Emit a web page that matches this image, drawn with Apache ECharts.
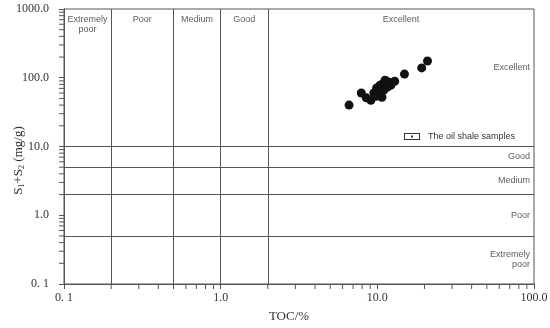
<!DOCTYPE html>
<html><head><meta charset="utf-8">
<script src="https://cdn.jsdelivr.net/npm/echarts@6/dist/echarts.min.js"></script>
<style>html,body{margin:0;padding:0;background:#fff}#c{width:550px;height:328px}</style>
</head><body><div id="c"></div>
<script>
// TOC (%) and S1+S2 (mg/g) of the oil shale samples
const sampleTOC = [6.6, 7.9, 8.5, 9.1, 9.5, 9.9, 10.4, 10.8, 11.3, 10.4, 11.0, 11.6, 11.8, 9.9, 10.7, 12.2, 11.2, 12.9, 14.9, 19.2, 20.9];
const sampleS12 = [40, 60, 51, 47, 60, 71, 78, 81, 84, 62, 66, 73, 87, 54, 52, 78, 92, 89, 113, 139, 175];
// class boundaries
const tocBounds = [0.1, 0.2, 0.5, 1, 2, 100];
const tocClasses = ['Extremely\npoor', 'Poor', 'Medium', 'Good', 'Excellent'];
const s12Bounds = [0.1, 0.5, 2, 5, 10, 1000];
const s12Classes = ['Extremely\npoor', 'Poor', 'Medium', 'Good', 'Excellent'];
// axis tick labels
const xTickLabels = ['0. 1', '1.0', '10.0', '100.0'];
const yTickLabels = ['0. 1', '1.0', '10.0', '100.0', '1000.0'];
const seriesName = 'The oil shale samples';

const samples = sampleTOC.map((x, i) => [x, sampleS12[i]]);
const lineColor = '#555';
const serif = 'Liberation Serif';
const sans = 'Liberation Sans';

// minor ticks at 2..9 x decade
const xMinor = [], yMinor = [];
for (let d = -1; d < 2; d++) for (let k = 2; k <= 9; k++) xMinor.push(k * Math.pow(10, d));
for (let d = -1; d < 3; d++) for (let k = 2; k <= 9; k++) yMinor.push(k * Math.pow(10, d));
const tickData = xMinor.map(v => [v, 0.1, 0]).concat(yMinor.map(v => [0.1, v, 1]));

const markLines = tocBounds.slice(1, -1).map(v => ({ xAxis: v }))
  .concat(s12Bounds.slice(1, -1).map(v => ({ yAxis: v })));

const topLabelData = tocClasses.map((n, i) => ({
  value: [Math.sqrt(tocBounds[i] * tocBounds[i + 1]), 820], name: n
}));
const rightLabelData = s12Classes.map((n, i) => ({
  value: [100, Math.sqrt(s12Bounds[i] * s12Bounds[i + 1])], name: n,
  label: i === 4 ? { offset: [-4, -10] } : {}
}));

function tickLabel(arr, base) {
  return v => { const i = Math.round(Math.log10(v)) - base; return arr[i] !== undefined ? arr[i] : ''; };
}

const chart = echarts.init(document.getElementById('c'), null, { renderer: 'canvas' });
chart.setOption({
  animation: false,
  backgroundColor: '#fff',
  grid: { left: 64, right: 16, top: 9, bottom: 44, containLabel: false, outerBoundsMode: 'none',
    show: true, borderColor: lineColor, borderWidth: 1, backgroundColor: 'transparent' },
  legend: {
    data: [seriesName], left: 399, top: 127, itemWidth: 16, itemHeight: 7,
    icon: 'path://M0,0H16V7H0Z M1,1V6H15V1Z M7,2.5H9V4.5H7Z',
    textStyle: { fontFamily: sans, fontSize: 9, color: '#333', padding: [0, 0, 0, 3] },
    itemStyle: { color: '#333', opacity: 1 }
  },
  xAxis: {
    type: 'log', logBase: 10, min: 0.1, max: 100,
    name: 'TOC/%', nameLocation: 'middle', nameGap: 26, nameMoveOverlap: false,
    nameTextStyle: { fontFamily: serif, fontSize: 13, color: '#333', padding: [0, 20, 0, 0] },
    axisLine: { lineStyle: { color: lineColor } },
    axisTick: { show: true, length: 5, lineStyle: { color: lineColor } },
    axisLabel: { formatter: tickLabel(xTickLabels, -1), fontFamily: serif, fontSize: 12, color: '#333', margin: 8 },
    splitLine: { show: false }
  },
  yAxis: {
    type: 'log', logBase: 10, min: 0.1, max: 1000,
    name: '{a|S}{s|1}{a|+S}{s|2}{a| (mg/g)}', nameLocation: 'middle', nameGap: 38, nameMoveOverlap: false,
    nameTextStyle: {
      padding: [0, 28, 0, 0],
      rich: {
        a: { fontFamily: serif, fontSize: 13, color: '#333' },
        s: { fontFamily: serif, fontSize: 8, color: '#333', verticalAlign: 'bottom', padding: [6, 0, 0, 0] }
      }
    },
    axisLine: { lineStyle: { color: lineColor } },
    axisTick: { show: true, length: 5, lineStyle: { color: lineColor } },
    axisLabel: { formatter: tickLabel(yTickLabels, -1), fontFamily: serif, fontSize: 12, color: '#333', margin: 15 },
    splitLine: { show: false }
  },
  series: [
    {
      name: seriesName, type: 'scatter', data: samples, symbolSize: 9,
      itemStyle: { color: '#111', opacity: 1 }, z: 5,
      markLine: {
        silent: true, symbol: 'none', label: { show: false },
        lineStyle: { type: 'solid', color: lineColor, width: 1, opacity: 1 },
        data: markLines, animation: false
      }
    },
    {
      type: 'custom', silent: true, data: tickData, z: 3,
      renderItem: (params, api) => {
        const p = api.coord([api.value(0), api.value(1)]);
        const vert = api.value(2) === 0;
        return {
          type: 'line',
          shape: vert ? { x1: p[0], y1: p[1], x2: p[0], y2: p[1] + 5 } : { x1: p[0], y1: p[1], x2: p[0] - 5, y2: p[1] },
          style: { stroke: lineColor, lineWidth: 1 }
        };
      }
    },
    {
      type: 'scatter', silent: true, symbolSize: 0, data: topLabelData,
      label: { show: true, position: 'inside', formatter: p => p.name, verticalAlign: 'top', align: 'center',
        fontFamily: sans, fontSize: 9, color: '#333', lineHeight: 10 }
    },
    {
      type: 'scatter', silent: true, symbolSize: 0, data: rightLabelData,
      label: { show: true, position: 'inside', formatter: p => p.name, verticalAlign: 'middle', align: 'right',
        offset: [-4, 0], fontFamily: sans, fontSize: 9, color: '#333', lineHeight: 10 }
    }
  ]
});
</script></body></html>
